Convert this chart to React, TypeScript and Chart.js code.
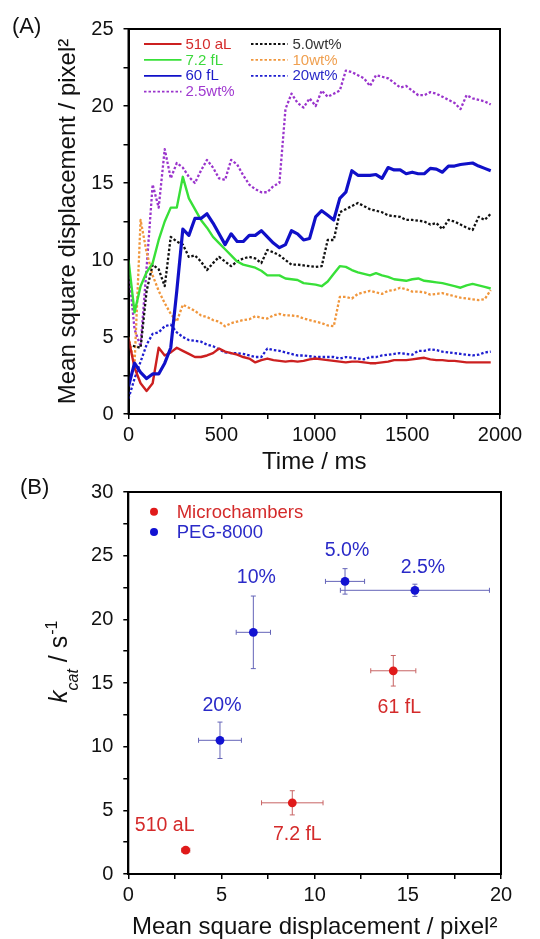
import React, { useEffect, useRef } from "react";
import { Chart, registerables } from "chart.js";
Chart.register(...registerables);

const FONT = "'Liberation Sans', Arial, Helvetica, sans-serif";

// ---------- Panel A data ----------
const timeMs = [
  0, 32.5, 65, 97.5, 130, 162.5, 195, 227.5, 260, 292.5, 325, 357.5, 390, 422.5, 455, 487.5,
  520, 552.5, 585, 617.5, 650, 682.5, 715, 747.5, 780, 812.5, 845, 877.5, 910, 942.5, 975,
  1007.5, 1040, 1072.5, 1105, 1137.5, 1170, 1202.5, 1235, 1267.5, 1300, 1332.5, 1365, 1397.5,
  1430, 1462.5, 1495, 1527.5, 1560, 1592.5, 1625, 1657.5, 1690, 1722.5, 1755, 1787.5, 1820,
  1852.5, 1885, 1917.5, 1950,
];

const msd510aL = [
  4.9, 3.0, 2.0, 1.5, 2.0, 4.3, 3.8, 4.0, 4.3, 4.1, 3.9, 3.7, 3.7, 3.8, 3.95, 4.25, 4.05, 3.95,
  3.85, 3.7, 3.6, 3.35, 3.5, 3.6, 3.5, 3.45, 3.4, 3.45, 3.4, 3.45, 3.55, 3.6, 3.55, 3.5, 3.45,
  3.4, 3.35, 3.4, 3.4, 3.35, 3.3, 3.3, 3.35, 3.4, 3.5, 3.5, 3.5, 3.55, 3.6, 3.65, 3.55, 3.5,
  3.5, 3.45, 3.45, 3.4, 3.35, 3.35, 3.35, 3.35, 3.35,
];
const msd72fL = [
  10.0, 6.6, 8.3, 9.2, 9.8, 11.3, 12.5, 13.4, 13.4, 15.4, 14.0, 13.3, 12.6, 12.1, 11.5, 11.1,
  10.7, 10.3, 9.9, 9.7, 9.6, 9.5, 9.3, 9.0, 9.0, 9.0, 8.8, 8.75, 8.7, 8.5, 8.45, 8.4, 8.3, 8.6,
  9.1, 9.6, 9.55, 9.35, 9.2, 9.1, 9.0, 9.15, 9.0, 8.9, 8.75, 8.7, 8.65, 8.75, 8.8, 8.65, 8.6,
  8.55, 8.5, 8.4, 8.3, 8.2, 8.35, 8.45, 8.35, 8.25, 8.15,
];
const msd60fL = [
  1.8, 3.3, 2.7, 2.3, 2.6, 2.6, 3.3, 4.3, 8.0, 12.0, 11.6, 12.7, 12.7, 13.0, 12.4, 11.7, 11.0,
  11.7, 11.2, 11.2, 11.6, 11.6, 11.9, 11.5, 11.1, 10.8, 11.0, 11.9, 11.7, 11.3, 11.4, 12.8,
  13.2, 12.9, 12.6, 14.0, 14.4, 15.8, 15.5, 15.5, 15.5, 15.55, 15.3, 16.0, 15.85, 15.85, 15.6,
  15.7, 15.6, 15.6, 15.95, 15.9, 15.7, 16.1, 16.1, 16.2, 16.25, 16.3, 16.1, 15.95, 15.8,
];
const msd25wt = [
  9.5, 5.5, 4.4, 9.5, 14.9, 13.4, 17.2, 15.3, 16.3, 16.0, 15.4, 15.0, 15.8, 16.5, 16.0, 15.3,
  15.2, 16.5, 16.2, 15.5, 14.9, 14.6, 14.4, 14.4, 14.8, 15.0, 19.8, 20.8, 20.2, 19.9, 20.5,
  20.0, 21.0, 20.6, 20.8, 21.0, 22.3, 22.2, 22.0, 21.8, 21.3, 22.0, 21.9, 21.8, 21.5, 21.2,
  21.3, 21.0, 20.7, 20.7, 20.9, 20.8, 20.6, 20.4, 20.2, 19.8, 20.7, 20.5, 20.4, 20.3, 20.1,
];
const msd50wt = [
  4.5, 4.4, 4.3, 8.0, 9.7, 9.4, 8.3, 11.5, 11.2, 11.0, 10.2, 10.3, 9.9, 9.35, 9.8, 10.2, 9.9,
  9.6, 9.9, 10.1, 10.2, 10.1, 9.8, 10.65, 10.5, 10.3, 10.0, 9.7, 9.7, 9.65, 9.6, 9.55, 9.6,
  11.3, 11.3, 13.1, 13.3, 13.5, 13.7, 13.5, 13.3, 13.2, 13.1, 12.9, 12.85, 12.8, 12.6, 12.6,
  12.55, 12.5, 12.3, 12.4, 12.0, 12.6, 12.5, 12.3, 12.1, 11.95, 12.8, 12.6, 13.0,
];
const msd10wt = [
  5.0, 3.2, 12.6, 10.5, 9.0, 8.0, 7.2, 6.5, 6.0, 7.1, 6.9, 6.7, 6.4, 6.3, 6.1, 6.0, 5.7, 5.9,
  6.0, 6.1, 6.15, 6.35, 6.25, 6.2, 6.4, 6.5, 6.4, 6.4, 6.35, 6.2, 6.1, 6.0, 5.9, 5.75, 5.7,
  7.6, 7.6, 7.5, 7.8, 7.9, 8.0, 7.9, 7.8, 8.0, 8.05, 8.2, 8.1, 7.95, 7.95, 7.9, 7.75, 7.8,
  7.85, 7.75, 7.65, 7.55, 7.5, 7.45, 7.4, 7.45, 8.05,
];
const msd20wt = [
  1.0, 2.3, 3.4, 4.5, 5.2, 5.3, 5.7, 5.8, 5.3, 5.0, 4.8, 4.75, 4.7, 4.5, 4.4, 4.2, 4.0, 3.95,
  3.95, 3.9, 3.8, 3.7, 3.7, 4.25, 4.15, 4.1, 4.0, 3.9, 3.8, 3.8, 3.75, 3.7, 3.7, 3.7, 3.7, 3.6,
  3.7, 3.65, 3.6, 3.55, 3.7, 3.7, 3.8, 3.85, 3.9, 3.95, 3.9, 3.85, 4.1, 4.1, 4.2, 4.15, 4.05,
  4.0, 3.95, 3.9, 3.85, 3.8, 3.85, 4.0, 4.05,
];

const yTicksA = [0, 5, 10, 15, 20, 25];
const xTicksA = [0, 500, 1000, 1500, 2000];

// ---------- Panel B data ----------
const microLabels = ["510 aL", "7.2 fL", "61 fL"];
const microMSD = [3.08, 8.8, 14.22];
const microKcat = [1.87, 5.59, 15.96];
const microMSDErr = [0.22, 1.65, 1.21];
const microKcatErr = [0.1, 0.95, 1.2];

const pegLabels = ["20%", "10%", "5.0%", "2.5%"];
const pegMSD = [4.92, 6.71, 11.63, 15.38];
const pegKcat = [10.5, 18.98, 22.98, 22.28];
const pegMSDErr = [1.15, 0.92, 1.05, 4.0];
const pegKcatErr = [1.43, 2.85, 1.0, 0.48];

const yTicksB = [0, 5, 10, 15, 20, 25, 30];
const xTicksB = [0, 5, 10, 15, 20];

// label placement (pixel offsets from the point)
const microLabelOffsets = [[-21, -25], [5, 32], [6, 37]];
const pegLabelOffsets = [[2, -35], [3, -55], [2, -31], [8, -23]];

const toXY = (xs: number[], ys: number[]) => ys.map((y, i) => ({ x: xs[i], y }));

const isMajor = (v: number, list: number[]) => list.some((t) => Math.abs(t - v) < 1e-6);

const framePlugin = {
  id: "frame",
  afterDraw(chart: any) {
    const { ctx, chartArea: a } = chart;
    ctx.save();
    ctx.strokeStyle = "#000";
    ctx.lineWidth = 2;
    ctx.strokeRect(a.left, a.top, a.right - a.left, a.bottom - a.top);
    ctx.restore();
  },
};

function panelLabel(text: string, x: number, y: number) {
  return {
    id: "panel" + text,
    afterDraw(chart: any) {
      const ctx = chart.ctx;
      ctx.save();
      ctx.font = `22px ${FONT}`;
      ctx.fillStyle = "#111";
      ctx.textAlign = "left";
      ctx.textBaseline = "middle";
      ctx.fillText(text, x, y);
      ctx.restore();
    },
  };
}

const legendOrderA = [
  ["510 aL", "7.2 fL", "60 fL", "2.5wt%"],
  ["5.0wt%", "10wt%", "20wt%"],
];
const legendTextColor: Record<string, string> = {
  "510 aL": "#d42a2a",
  "7.2 fL": "#3cd83c",
  "60 fL": "#1c1cc8",
  "2.5wt%": "#a03ad0",
  "5.0wt%": "#333333",
  "10wt%": "#f0a050",
  "20wt%": "#2a2ac8",
};

const legendAPlugin = {
  id: "legendA",
  afterDraw(chart: any) {
    const { ctx, chartArea: a } = chart;
    const cols = [
      { x0: 15.5, x1: 53, tx: 57 },
      { x0: 122.5, x1: 159, tx: 164 },
    ];
    ctx.save();
    ctx.font = `15px ${FONT}`;
    ctx.textBaseline = "middle";
    ctx.textAlign = "left";
    legendOrderA.forEach((col, ci) => {
      col.forEach((label, ri) => {
        const ds = chart.data.datasets.find((d: any) => d.label === label);
        if (!ds) return;
        const y = a.top + 15 + ri * 15.9;
        ctx.strokeStyle = ds.borderColor;
        ctx.lineWidth = 1.8;
        ctx.setLineDash(ds.borderDash || []);
        ctx.beginPath();
        ctx.moveTo(a.left + cols[ci].x0, y);
        ctx.lineTo(a.left + cols[ci].x1, y);
        ctx.stroke();
        ctx.setLineDash([]);
        ctx.fillStyle = legendTextColor[label];
        ctx.fillText(label, a.left + cols[ci].tx, y + 0.5);
      });
    });
    ctx.restore();
  },
};

const errorBarPlugin = {
  id: "errorBars",
  beforeDatasetsDraw(chart: any) {
    const { ctx } = chart;
    const xs = chart.scales.x;
    const ys = chart.scales.y;
    const groups = [
      { x: microMSD, y: microKcat, ex: microMSDErr, ey: microKcatErr, color: "#c86464" },
      { x: pegMSD, y: pegKcat, ex: pegMSDErr, ey: pegKcatErr, color: "#6464b8" },
    ];
    ctx.save();
    ctx.lineWidth = 1;
    const cap = 2.5;
    groups.forEach((g) => {
      ctx.strokeStyle = g.color;
      g.x.forEach((xv, i) => {
        const px = xs.getPixelForValue(xv);
        const py = ys.getPixelForValue(g.y[i]);
        const xl = xs.getPixelForValue(xv - g.ex[i]);
        const xr = xs.getPixelForValue(xv + g.ex[i]);
        const yt = ys.getPixelForValue(g.y[i] + g.ey[i]);
        const yb = ys.getPixelForValue(g.y[i] - g.ey[i]);
        ctx.beginPath();
        ctx.moveTo(xl, py); ctx.lineTo(xr, py);
        ctx.moveTo(xl, py - cap); ctx.lineTo(xl, py + cap);
        ctx.moveTo(xr, py - cap); ctx.lineTo(xr, py + cap);
        ctx.moveTo(px, yt); ctx.lineTo(px, yb);
        ctx.moveTo(px - cap, yt); ctx.lineTo(px + cap, yt);
        ctx.moveTo(px - cap, yb); ctx.lineTo(px + cap, yb);
        ctx.stroke();
      });
    });
    ctx.restore();
  },
};

const pointLabelPlugin = {
  id: "pointLabels",
  afterDatasetsDraw(chart: any) {
    const { ctx } = chart;
    const xs = chart.scales.x;
    const ys = chart.scales.y;
    ctx.save();
    ctx.font = `19.5px ${FONT}`;
    ctx.textAlign = "center";
    ctx.textBaseline = "middle";
    ctx.fillStyle = "#d42a2a";
    microLabels.forEach((t, i) => {
      ctx.fillText(
        t,
        xs.getPixelForValue(microMSD[i]) + microLabelOffsets[i][0],
        ys.getPixelForValue(microKcat[i]) + microLabelOffsets[i][1]
      );
    });
    ctx.fillStyle = "#2a2ac8";
    pegLabels.forEach((t, i) => {
      ctx.fillText(
        t,
        xs.getPixelForValue(pegMSD[i]) + pegLabelOffsets[i][0],
        ys.getPixelForValue(pegKcat[i]) + pegLabelOffsets[i][1]
      );
    });
    ctx.restore();
  },
};

const legendBPlugin = {
  id: "legendB",
  afterDraw(chart: any) {
    const { ctx, chartArea: a } = chart;
    ctx.save();
    ctx.font = `18.5px ${FONT}`;
    ctx.textAlign = "left";
    ctx.textBaseline = "middle";
    chart.data.datasets.forEach((ds: any, i: number) => {
      const y = a.top + 19.7 + i * 20.3;
      ctx.fillStyle = ds.backgroundColor;
      ctx.beginPath();
      ctx.arc(a.left + 25.7, y, 4, 0, Math.PI * 2);
      ctx.fill();
      ctx.fillStyle = ds.label === "Microchambers" ? "#d42a2a" : "#2a2ac8";
      ctx.fillText(ds.label, a.left + 48.4, y + 1);
    });
    ctx.restore();
  },
};

const yTitleBPlugin = {
  id: "yTitleB",
  afterDraw(chart: any) {
    const { ctx, chartArea: a } = chart;
    ctx.save();
    ctx.translate(67, a.bottom - 171);
    ctx.rotate(-Math.PI / 2);
    ctx.fillStyle = "#111";
    ctx.textAlign = "left";
    ctx.textBaseline = "alphabetic";
    let x = 0;
    ctx.font = `italic 25px ${FONT}`;
    ctx.fillText("k", x, 0);
    x += ctx.measureText("k").width;
    ctx.font = `italic 16px ${FONT}`;
    ctx.fillText("cat", x, 11);
    x += ctx.measureText("cat").width;
    ctx.font = `25px ${FONT}`;
    ctx.fillText(" / s", x, 0);
    x += ctx.measureText(" / s").width;
    ctx.font = `16px ${FONT}`;
    ctx.fillText("-1", x + 1, -10.5);
    ctx.restore();
  },
};

function axisCommon() {
  return {
    grid: {
      drawOnChartArea: false,
      drawTicks: true,
      tickLength: 5,
      color: "#000",
      lineWidth: 1.5,
    },
    border: { display: true, color: "#000", width: 2 },
  };
}

export default function App() {
  const refA = useRef<HTMLCanvasElement>(null);
  const refB = useRef<HTMLCanvasElement>(null);

  useEffect(() => {
    const lineDs = (label: string, data: number[], color: string, width: number, dash?: number[]) => ({
      label,
      data: toXY(timeMs, data),
      borderColor: color,
      backgroundColor: color,
      borderWidth: width,
      borderDash: dash || [],
      pointRadius: 0,
      tension: 0,
      fill: false,
      borderJoinStyle: "round" as const,
    });

    const chartA = new Chart(refA.current as HTMLCanvasElement, {
      type: "line",
      data: {
        datasets: [
          lineDs("60 fL", msd60fL, "#1010c8", 3.2),
          lineDs("7.2 fL", msd72fL, "#38e038", 2.4),
          lineDs("510 aL", msd510aL, "#cc2020", 2.4),
          lineDs("5.0wt%", msd50wt, "#111111", 2.3, [2.5, 2]),
          lineDs("10wt%", msd10wt, "#f0963c", 2.3, [2.5, 2]),
          lineDs("20wt%", msd20wt, "#1e1ed0", 2.3, [2.5, 2]),
          lineDs("2.5wt%", msd25wt, "#9a34cc", 2.3, [2.5, 2]),
        ] as any,
      },
      options: {
        animation: false,
        responsive: false,
        maintainAspectRatio: false,
        layout: { padding: { left: 0, top: 29, right: 40, bottom: 0 } },
        plugins: { legend: { display: false }, tooltip: { enabled: false } },
        scales: {
          x: {
            type: "linear",
            min: 0,
            max: 2000,
            ...axisCommon(),
            ticks: {
              stepSize: 250,
              autoSkip: false,
              maxRotation: 0,
              padding: 4,
              color: "#111",
              font: { family: FONT, size: 20 },
              callback: (v: any) => (isMajor(Number(v), xTicksA) ? String(v) : ""),
            },
            title: {
              display: true,
              text: "Time / ms",
              color: "#111",
              font: { family: FONT, size: 24, lineHeight: 1 },
              padding: { top: 0, bottom: 6 },
            },
            afterFit: (s: any) => {
              s.height = 66;
            },
          },
          y: {
            type: "linear",
            min: 0,
            max: 25,
            ...axisCommon(),
            ticks: {
              stepSize: 2.5,
              autoSkip: false,
              padding: 10,
              color: "#111",
              font: { family: FONT, size: 20 },
              callback: (v: any) => (isMajor(Number(v), yTicksA) ? String(v) : ""),
            },
            title: {
              display: true,
              text: "Mean square displacement / pixel²",
              color: "#111",
              font: { family: FONT, size: 24, lineHeight: 1 },
              padding: { top: 56, bottom: 0 },
            },
            afterFit: (s: any) => {
              s.width = 128.5;
            },
          },
        },
      } as any,
      plugins: [framePlugin, legendAPlugin, panelLabel("(A)", 12, 27)],
    });

    const chartB = new Chart(refB.current as HTMLCanvasElement, {
      type: "scatter",
      data: {
        datasets: [
          {
            label: "Microchambers",
            data: toXY(microMSD, microKcat),
            backgroundColor: "#e01a1a",
            borderColor: "#e01a1a",
            pointRadius: 4.4,
            pointBorderWidth: 0,
          },
          {
            label: "PEG-8000",
            data: toXY(pegMSD, pegKcat),
            backgroundColor: "#1212d2",
            borderColor: "#1212d2",
            pointRadius: 4.4,
            pointBorderWidth: 0,
          },
        ],
      },
      options: {
        animation: false,
        responsive: false,
        maintainAspectRatio: false,
        layout: { padding: { left: 0, top: 19.3, right: 39, bottom: 0 } },
        plugins: { legend: { display: false }, tooltip: { enabled: false } },
        scales: {
          x: {
            type: "linear",
            min: 0,
            max: 20,
            ...axisCommon(),
            ticks: {
              stepSize: 2.5,
              autoSkip: false,
              maxRotation: 0,
              padding: 4,
              color: "#111",
              font: { family: FONT, size: 20 },
              callback: (v: any) => (isMajor(Number(v), xTicksB) ? String(v) : ""),
            },
            title: {
              display: true,
              text: "Mean square displacement / pixel²",
              color: "#111",
              font: { family: FONT, size: 24, lineHeight: 1 },
              padding: { top: 0, bottom: 0 },
            },
            afterFit: (s: any) => {
              s.height = 65;
            },
          },
          y: {
            type: "linear",
            min: 0,
            max: 30,
            ...axisCommon(),
            ticks: {
              stepSize: 2.5,
              autoSkip: false,
              padding: 10,
              color: "#111",
              font: { family: FONT, size: 20 },
              callback: (v: any) => (isMajor(Number(v), yTicksB) ? String(v) : ""),
            },
            title: { display: false },
            afterFit: (s: any) => {
              s.width = 128.3;
            },
          },
        },
      } as any,
      plugins: [errorBarPlugin, pointLabelPlugin, framePlugin, legendBPlugin, yTitleBPlugin, panelLabel("(B)", 20, 18)],
    });

    return () => {
      chartA.destroy();
      chartB.destroy();
    };
  }, []);

  return (
    <div style={{ position: "absolute", left: 0, top: 0, width: 540, height: 939, background: "#fff" }}>
      <canvas
        ref={refA}
        width={540}
        height={480}
        style={{ position: "absolute", left: 0, top: 0, width: 540, height: 480 }}
      />
      <canvas
        ref={refB}
        width={540}
        height={469}
        style={{ position: "absolute", left: 0, top: 470, width: 540, height: 469 }}
      />
    </div>
  );
}
